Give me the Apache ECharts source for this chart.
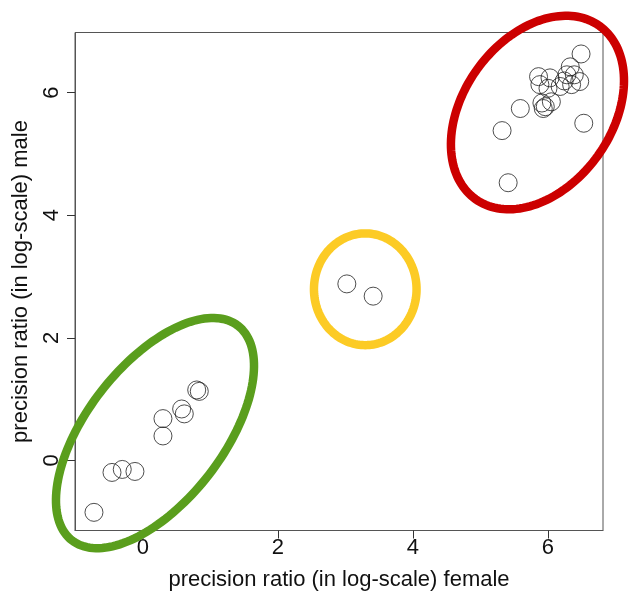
<!DOCTYPE html>
<html>
<head>
<meta charset="utf-8">
<script src="https://cdn.jsdelivr.net/npm/echarts@6/dist/echarts.min.js"></script>
<style>
html,body{margin:0;padding:0;background:#fff;}
#chart{width:630px;height:598px;}
</style>
</head>
<body>
<div id="chart"></div>
<script>
// Points: [female, male]
const groupLow = [
  [-0.726, -0.846], [-0.459, -0.195], [-0.307, -0.146], [-0.119, -0.179],
  [0.296, 0.683], [0.296, 0.400], [0.573, 0.840], [0.612, 0.760],
  [0.796, 1.150], [0.834, 1.127]
];
const groupMid = [
  [3.02, 2.88], [3.41, 2.68]
];
const groupHigh = [
  [6.49, 6.63], [6.33, 6.42], [5.86, 6.26], [6.03, 6.24], [6.28, 6.29],
  [6.39, 6.29], [6.47, 6.18], [5.88, 6.13], [6.00, 6.07], [6.18, 6.10],
  [6.24, 6.19], [6.35, 6.13], [5.91, 5.83], [5.96, 5.77], [5.93, 5.74],
  [6.05, 5.85], [5.59, 5.74], [5.32, 5.38], [6.53, 5.50], [5.41, 4.53]
];
// Ellipses in data units: centre, first and second conjugate semi-diameters
const ellipseCenters = [[5.844, 5.675], [0.178, 0.447], [3.293, 2.792]];
const ellipseU = [[0.916, 1.414], [1.229, 1.751], [0.760, 0]];
const ellipseV = [[-0.897, 0.700], [-0.801, 0.677], [0, 0.911]];
const ellipseColors = ['#CC0000', '#5A9E1D', '#FCCB25'];

const xTicks = [0, 2, 4, 6];
const yTicks = [0, 2, 4, 6];

const allPoints = groupLow.concat(groupMid, groupHigh);

const FONT = 'Liberation Sans, Arial, sans-serif';
const chart = echarts.init(document.getElementById('chart'), null, {renderer: 'canvas'});

chart.setOption({
  animation: false,
  backgroundColor: '#fff',
  grid: {left: 75, right: 27, top: 32.5, bottom: 67.5, show: true, borderColor: '#555', borderWidth: 1, backgroundColor: 'transparent'},
  xAxis: {
    type: 'value', min: -1.007, max: 6.815,
    splitLine: {show: false},
    axisLine: {show: true, onZero: false, lineStyle: {color: '#555', width: 1}},
    axisTick: {show: true, inside: false, length: 8, customValues: xTicks, lineStyle: {color: '#333', width: 1}},
    axisLabel: {customValues: xTicks, margin: 6, color: '#111', fontSize: 22, fontFamily: FONT},
    name: 'precision ratio (in log-scale) female',
    nameLocation: 'middle', nameGap: 38,
    nameTextStyle: {fontSize: 22, color: '#111', fontFamily: FONT}
  },
  yAxis: {
    type: 'value', min: -1.142, max: 6.98,
    splitLine: {show: false},
    axisLine: {show: true, onZero: false, lineStyle: {color: '#555', width: 1}},
    axisTick: {show: true, inside: false, length: 8, customValues: yTicks, lineStyle: {color: '#333', width: 1}},
    axisLabel: {customValues: yTicks, rotate: 90, margin: 12, color: '#111', fontSize: 22, fontFamily: FONT},
    name: 'precision ratio (in log-scale) male',
    nameLocation: 'middle', nameGap: 43, nameRotate: 90,
    nameTextStyle: {fontSize: 22, color: '#111', fontFamily: FONT}
  },
  series: [
    {
      type: 'custom',
      clip: false,
      silent: true,
      z: 1,
      data: ellipseCenters.map((c, i) => [c[0], c[1], i]),
      renderItem: function (params, api) {
        const i = api.value(2);
        const c = ellipseCenters[i], u = ellipseU[i], v = ellipseV[i];
        const pts = [];
        const n = 160;
        for (let k = 0; k < n; k++) {
          const t = 2 * Math.PI * k / n;
          pts.push(api.coord([
            c[0] + u[0] * Math.cos(t) + v[0] * Math.sin(t),
            c[1] + u[1] * Math.cos(t) + v[1] * Math.sin(t)
          ]));
        }
        return {
          type: 'polygon',
          shape: {points: pts},
          style: {fill: 'none', stroke: ellipseColors[i], lineWidth: 8.5}
        };
      }
    },
    {
      type: 'scatter',
      z: 2,
      symbol: 'circle',
      symbolSize: 18,
      silent: true,
      data: allPoints,
      itemStyle: {color: 'rgba(0,0,0,0)', borderColor: '#222', borderWidth: 1}
    }
  ]
});
</script>
</body>
</html>
